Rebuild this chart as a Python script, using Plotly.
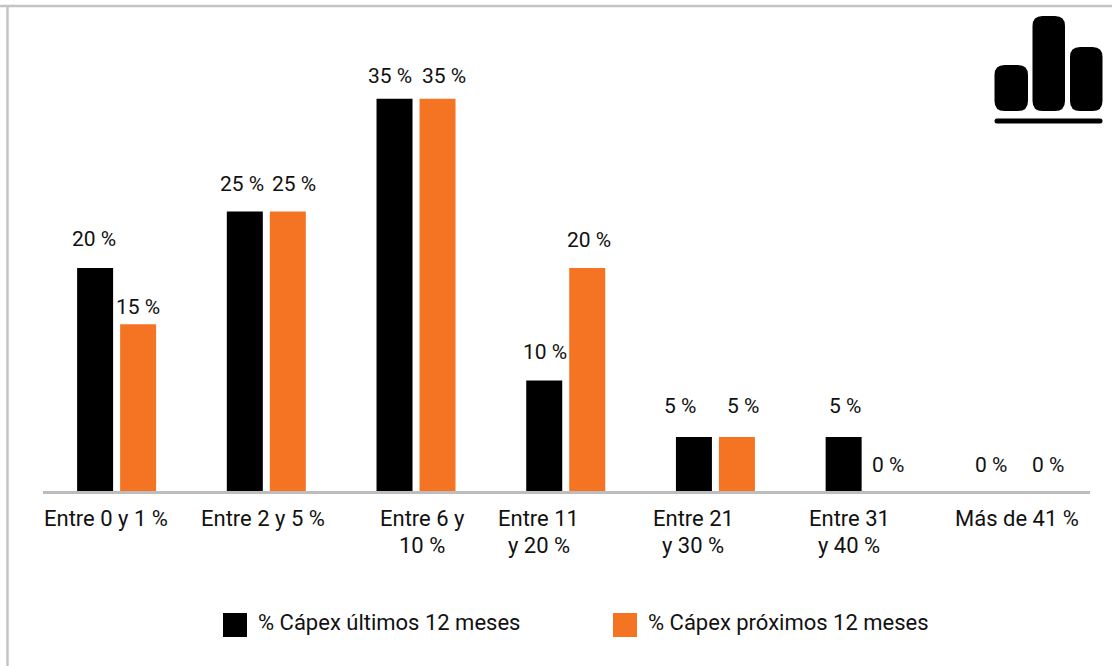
import plotly.graph_objects as go

W, H = 1112, 666
FONT = "Roboto"
INK = "#111111"
GREY = "#c4c4c4"
AXIS_GREY = "#bdbdbd"
BLACK = "#000000"
ORANGE = "#f47424"

categories = ["Entre 0 y 1 %", "Entre 2 y 5 %", "Entre 6 y 10 %", "Entre 11 y 20 %",
              "Entre 21 y 30 %", "Entre 31 y 40 %", "Más de 41 %"]
axis_lines = [["Entre 0 y 1 %"], ["Entre 2 y 5 %"], ["Entre 6 y", "10 %"], ["Entre 11", "y 20 %"],
              ["Entre 21", "y 30 %"], ["Entre 31", "y 40 %"], ["Más de 41 %"]]
last_12 = [20, 25, 35, 10, 5, 5, 0]
next_12 = [15, 25, 35, 20, 5, 0, 0]
name_last = "% Cápex últimos 12 meses"
name_next = "% Cápex próximos 12 meses"

# Pixel offsets of the value labels from each group centre and from each bar top
last_dx = [-23, -24, -26, -21, -35, -20, -24]
next_dx = [21, 28, 28, 23, 28, 23, 33]
last_dy = [29, 28, 23, 29, 31, 31, 26]
next_dy = [17, 28, 23, 28, 31, 26, 26]
tick_dx = [-11, -3, 6, -27, -22, -16, 2]

# Vertical scale: pixels per percentage point and the pixel row of value 0
PX_PER_UNIT = 11.27
ZERO_ROW = 493.3
AXIS_ROW = 491
AXIS_FLOOR = (ZERO_ROW - AXIS_ROW) / PX_PER_UNIT


def px(x):
    return x / W


def py(y):
    return 1 - y / H


def rounded(x0, y0, x1, y1, r):
    """SVG path of a rounded rectangle given in page pixels."""
    a, b, c, d = px(x0), py(y0), px(x1), py(y1)
    rx, ry = r / W, r / H
    return (f"M{a + rx},{b} L{c - rx},{b} Q{c},{b} {c},{b - ry} L{c},{d + ry} Q{c},{d} {c - rx},{d} "
            f"L{a + rx},{d} Q{a},{d} {a},{d + ry} L{a},{b - ry} Q{a},{b} {a + rx},{b} Z")


fig = go.Figure()
fig.add_bar(x=categories, y=last_12, name=name_last, marker_color=BLACK, marker_line_width=0)
fig.add_bar(x=categories, y=next_12, name=name_next, marker_color=ORANGE, marker_line_width=0)

annotations = []
for cat, a, b, da, db, ya, yb in zip(categories, last_12, next_12, last_dx, next_dx, last_dy, next_dy):
    for value, dx, dy in ((a, da, ya), (b, db, yb)):
        # Labels of empty bars sit on the axis floor, the lowest value inside the plotted range
        annotations.append(dict(x=cat, y=max(value, AXIS_FLOOR), xref="x", yref="y", text=f"{value} %",
                                showarrow=False, xanchor="center", yanchor="middle",
                                xshift=dx, yshift=dy, font=dict(size=21)))

for cat, lines, dx in zip(categories, axis_lines, tick_dx):
    for n, line in enumerate(lines):
        annotations.append(dict(x=cat, y=AXIS_FLOOR, xref="x", yref="y", text=line, showarrow=False,
                                xanchor="center", yanchor="middle", xshift=dx, yshift=-27 - 27 * n))

# Legend entries
for left, text in ((256, name_last), (646, name_next)):
    annotations.append(dict(x=px(left), y=py(622), xref="paper", yref="paper", text=text, showarrow=False,
                            xanchor="left", yanchor="middle"))

shapes = [
    # Page frame: top and left rules
    dict(type="line", xref="paper", yref="paper", x0=0, x1=1, y0=py(6), y1=py(6), line=dict(color=GREY, width=2.5)),
    dict(type="line", xref="paper", yref="paper", x0=px(7.5), x1=px(7.5), y0=py(5), y1=0, line=dict(color=GREY, width=2.5)),
    # Legend swatches
    dict(type="rect", xref="paper", yref="paper", x0=px(223), x1=px(247), y0=py(637), y1=py(613),
         fillcolor=BLACK, line_width=0),
    dict(type="rect", xref="paper", yref="paper", x0=px(613), x1=px(637), y0=py(637), y1=py(613),
         fillcolor=ORANGE, line_width=0),
    # Bar-chart emblem in the corner
    dict(type="path", xref="paper", yref="paper", path=rounded(994.5, 65, 1028, 111, 10), fillcolor=BLACK, line_width=0),
    dict(type="path", xref="paper", yref="paper", path=rounded(1032.5, 16, 1065, 111, 10), fillcolor=BLACK, line_width=0),
    dict(type="path", xref="paper", yref="paper", path=rounded(1070, 47, 1102.5, 111, 10), fillcolor=BLACK, line_width=0),
    dict(type="path", xref="paper", yref="paper", path=rounded(994.5, 118.5, 1102.5, 123.5, 2.5), fillcolor=BLACK, line_width=0),
]

fig.update_layout(
    width=W, height=H, margin=dict(l=0, r=0, t=0, b=0, pad=0), autosize=False,
    paper_bgcolor="white", plot_bgcolor="white",
    font=dict(family=FONT, size=22, color=INK),
    barmode="group", bargap=0.4255, bargroupgap=0.163, showlegend=False,
    annotations=annotations, shapes=shapes,
    xaxis=dict(domain=[px(43), px(1090)], range=[-0.4917, 6.502], type="category",
               categoryorder="array", categoryarray=categories,
               showticklabels=False, ticks="", showgrid=False, zeroline=False,
               showline=True, linecolor=AXIS_GREY, linewidth=2.5),
    yaxis=dict(domain=[py(AXIS_ROW), 1],
               range=[AXIS_FLOOR, ZERO_ROW / PX_PER_UNIT],
               visible=False, showgrid=False, zeroline=False),
)

fig.write_html("out.html")
